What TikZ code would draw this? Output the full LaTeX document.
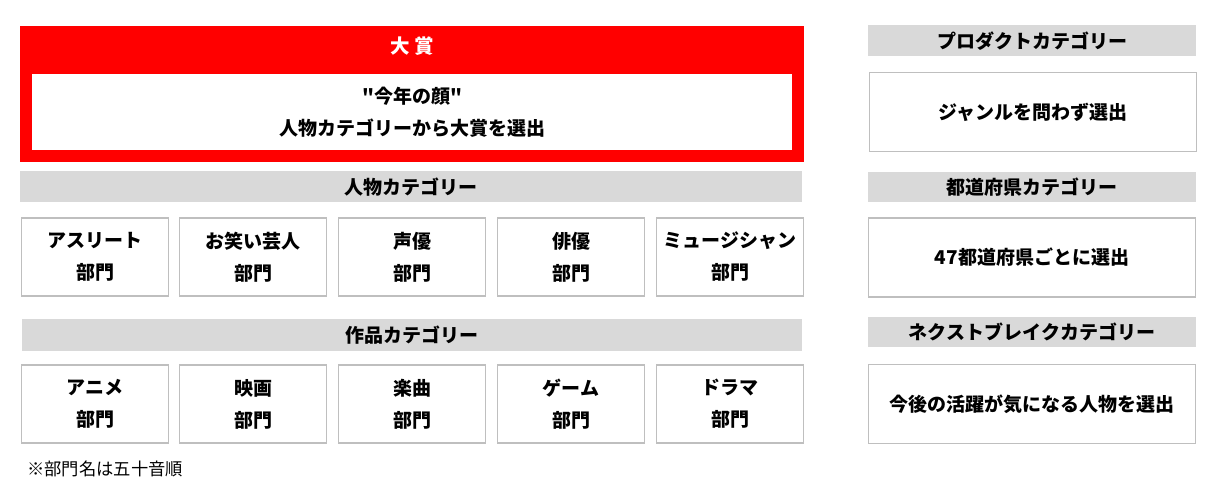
\documentclass[tikz,border=0pt]{standalone}
\usepackage{fontspec}
\newfontfamily\jp{Noto Sans CJK JP}
\definecolor{awardred}{HTML}{FF0000}
\definecolor{bargray}{HTML}{D9D9D9}
\definecolor{linegray}{HTML}{BFBFBF}

\begin{document}
\begin{tikzpicture}[x=1pt,y=-1pt,
  every node/.style={inner sep=0pt,font=\jp\bfseries\fontsize{19}{32}\selectfont,align=center},
  bar/.style={fill=bargray,minimum height=31pt},
  dept/.style={draw=linegray,line width=1.3pt,fill=white,minimum width=147pt,minimum height=78pt},
  pick/.style={draw=linegray,line width=1.3pt,fill=white,minimum width=327pt,minimum height=79pt}]
\useasboundingbox (0,0) rectangle (1224,494);
% grand prize
\node[fill=awardred,minimum width=784pt,minimum height=136pt] (award) at (412,94) {};
\node[text=white,font=\jp\bfseries\fontsize{19.5}{24}\selectfont] (awardtitle) at (412,46) {大\hspace{4pt}賞};
\node[fill=white,minimum width=760pt,minimum height=76pt] (awardbody) at (412,112) {"今年の顔"\\人物カテゴリーから大賞を選出};
% person category
\node[bar,minimum width=782pt] (person) at (411,187) {人物カテゴリー};
\node[dept] (athlete) at (95,257) {アスリート\\部門};
\node[dept] (comedian) at (253,257) {お笑い芸人\\部門};
\node[dept] (voice) at (412,257) {声優\\部門};
\node[dept] (actor) at (571,257) {俳優\\部門};
\node[dept] (musician) at (730,257) {ミュージシャン\\部門};
% works category
\node[bar,minimum width=780pt,minimum height=32pt] (works) at (412,335) {作品カテゴリー};
\node[dept] (anime) at (95,404) {アニメ\\部門};
\node[dept] (movie) at (253,404) {映画\\部門};
\node[dept] (song) at (412,404) {楽曲\\部門};
\node[dept] (game) at (571,404) {ゲーム\\部門};
\node[dept] (drama) at (730,404) {ドラマ\\部門};
% right column
\node[bar,minimum width=328pt] (product) at (1032,41) {プロダクトカテゴリー};
\node[pick] (productbody) at (1033,112) {ジャンルを問わず選出};
\node[bar,minimum width=328pt,minimum height=30pt] (pref) at (1032,187) {都道府県カテゴリー};
\node[pick] (prefbody) at (1032,257.5) {47都道府県ごとに選出};
\node[bar,minimum width=328pt,minimum height=30pt] (next) at (1032,332) {ネクストブレイクカテゴリー};
\node[pick] (nextbody) at (1032,404) {今後の活躍が気になる人物を選出};
% note
\node[anchor=west,font=\jp\fontsize{17.3}{20}\selectfont] (note) at (27,469) {※部門名は五十音順};
\end{tikzpicture}
\end{document}
